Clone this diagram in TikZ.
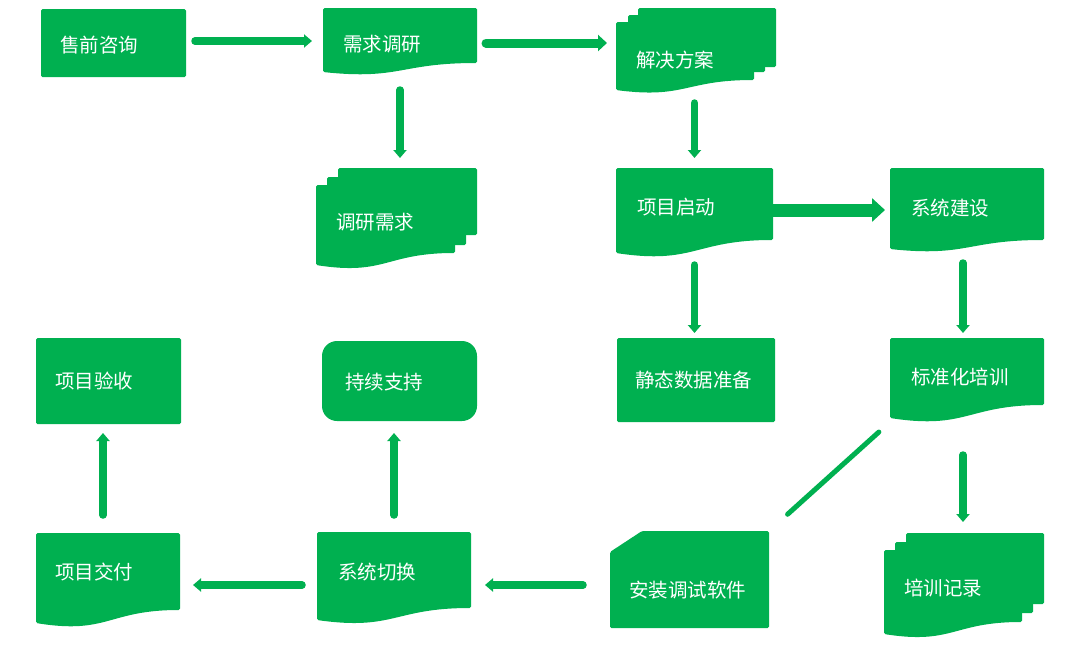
\documentclass[tikz,border=0pt]{standalone}
\usepackage{fontspec}
\newfontfamily\cjk{Noto Sans CJK SC}
\usetikzlibrary{arrows.meta,fit,calc}
\definecolor{gr}{RGB}{0,176,80}
\newcommand\docfill[5]{% x1 y1 x2 y2 yL
  \fill[gf] (#1,#2) -- (#3,#2) -- (#3,#4) .. controls ({(#1+#3)/2},#4) and ({(#1+#3)/2},{#5+0.9*(#5-#4)}) .. (#1,#5) -- cycle;}
\begin{document}
\begin{tikzpicture}[x=1pt,y=-1pt,
  gf/.style={fill=gr, rounded corners=1.5pt},
  lbl/.style={anchor=west, text=white, font=\cjk\fontsize{19.5}{22}\selectfont, inner sep=0pt},
  bb/.style={inner sep=0pt, outer sep=0pt},
  arr/.style={draw=gr, line width=7.5pt, line cap=round, -{Triangle[length=8pt,width=13pt]}},
  arrm/.style={draw=gr, line width=9pt, line cap=round, -{Triangle[length=9pt,width=16pt]}},
  arrb/.style={draw=gr, line width=13pt, -{Triangle[length=13pt,width=23pt]}},
  link/.style={draw=gr, line width=5pt, line cap=round}]
\useasboundingbox (0,0) rectangle (1080,646);

% shapes
\fill[gf] (41,9) rectangle (186,77);
\docfill{323}{8}{477}{63}{72}
% 解决方案 multidoc
\fill[gf] (638,8) rectangle (776,67);
\fill[gf] (628,15) rectangle (765,72);
\docfill{616}{22}{754}{80}{90}
% 调研需求 multidoc
\fill[gf] (338,168) rectangle (477,235);
\fill[gf] (327,177) rectangle (466,245);
\docfill{316}{185}{455}{253}{265}
% 项目启动, 系统建设
\docfill{616}{168}{773}{240}{253}
\docfill{890}{168}{1044}{240}{249}
% 静态数据准备
\fill[gf] (617,338) rectangle (775,422);
% 标准化培训
\docfill{890}{338}{1044}{405}{418}
% 培训记录 multidoc
\fill[gf] (906,533) rectangle (1044,604);
\fill[gf] (895,542) rectangle (1033,613);
\docfill{884}{550}{1022}{622}{634}
% 安装调试软件 card
\fill[gf] (642,531) -- (769,531) -- (769,628) -- (610,628) -- (610,552) -- cycle;
% 系统切换, 项目交付
\docfill{317}{532}{471}{608}{620}
\docfill{36}{533}{180}{610}{623}
% 项目验收
\fill[gf] (36,338) rectangle (181,424);
% 持续支持
\fill[gr, rounded corners=15pt] (322,341) rectangle (477,421);

% named nodes (bounding boxes)
\node[bb, fit={(41,9) (186,77)}] (sq) {};
\node[bb, fit={(323,8) (477,76)}] (xq) {};
\node[bb, fit={(616,8) (776,92)}] (jj) {};
\node[bb, fit={(316,168) (477,268)}] (dy) {};
\node[bb, fit={(616,168) (773,257)}] (qd) {};
\node[bb, fit={(890,168) (1044,252)}] (js) {};
\node[bb, fit={(617,338) (775,422)}] (jt) {};
\node[bb, fit={(890,338) (1044,422)}] (bz) {};
\node[bb, fit={(884,533) (1044,637)}] (pj) {};
\node[bb, fit={(610,531) (769,628)}] (az) {};
\node[bb, fit={(317,532) (471,624)}] (qh) {};
\node[bb, fit={(36,533) (180,627)}] (jf) {};
\node[bb, fit={(36,338) (181,424)}] (ys) {};
\node[bb, fit={(322,341) (477,421)}] (cx) {};

% labels
\node[lbl] (tsq) at (60,45) {售前咨询};
\node[lbl] (txq) at (343,44) {需求调研};
\node[lbl] (tjj) at (636,60) {解决方案};
\node[lbl] (tdy) at (336,222) {调研需求};
\node[lbl] (tqd) at (637,207) {项目启动};
\node[lbl] (tjs) at (911,208) {系统建设};
\node[lbl] (tjt) at (635,380) {静态数据准备};
\node[lbl] (tbz) at (911,377) {标准化培训};
\node[lbl] (taz) at (629,590) {安装调试软件};
\node[lbl] (tpj) at (904,588) {培训记录};
\node[lbl] (tqh) at (338,572) {系统切换};
\node[lbl] (tjf) at (55,572) {项目交付};
\node[lbl] (tys) at (55,381) {项目验收};
\node[lbl] (tcx) at (345,382) {持续支持};

% connectors
\draw[arr, shorten <=9pt, shorten >=11pt] ([yshift=2pt]sq.east) -- ([yshift=2pt]sq.east -| xq.west);
\draw[arrm, shorten <=9pt, shorten >=9pt] ([yshift=-1pt]xq.east) -- ([yshift=-1pt]xq.east -| jj.west);
\draw[arr, shorten <=14pt, shorten >=10pt] (xq.south) -- (xq.south |- dy.north);
\draw[arr, shorten <=11pt, shorten >=10pt] (qd.north |- jj.south) -- (qd.north);
\draw[arrb, shorten >=5pt] ([yshift=2.5pt]qd.east) -- ([yshift=2.5pt]qd.east -| js.west);
\draw[arr, shorten <=8pt, shorten >=5pt] (qd.south) -- (qd.south |- jt.north);
\draw[arr, shorten <=11pt, shorten >=5pt] ([xshift=-4pt]js.south) -- ([xshift=-4pt]js.south |- bz.north);
\draw[arr, shorten <=33pt, shorten >=11pt] ([xshift=-4pt]bz.south) -- ([xshift=-4pt]bz.south |- pj.north);
\draw[link, shorten <=15pt, shorten >=25pt] (bz.south west) -- (az.north east);
\draw[arr, shorten <=27pt, shorten >=14pt] ([yshift=-5.5pt]az.west) -- ([yshift=-5.5pt]az.west -| qh.east);
\draw[arr, shorten <=15pt, shorten >=13pt] ([yshift=-7pt]qh.west) -- ([yshift=-7pt]qh.west -| jf.east);
\draw[arr, shorten <=18pt, shorten >=9pt] ([xshift=-5pt]jf.north) -- ([xshift=-5pt]jf.north |- ys.south);
\draw[arr, shorten <=17pt, shorten >=12pt] (qh.north) -- (qh.north |- cx.south);
\end{tikzpicture}
\end{document}
